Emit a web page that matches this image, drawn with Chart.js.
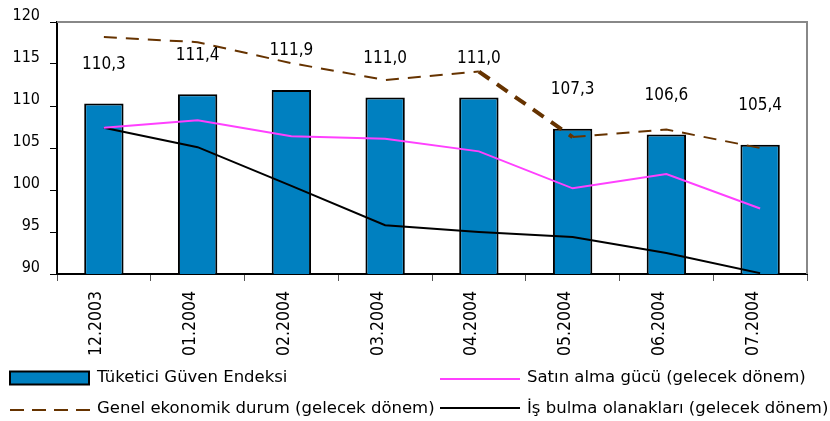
<!DOCTYPE html>
<html>
<head>
<meta charset="utf-8">
<script src="https://cdn.jsdelivr.net/npm/chart.js@4/dist/chart.umd.min.js"></script>
<style>
  body { margin: 0; background: #fff; }
</style>
</head>
<body>
<canvas id="guvenChart" width="830" height="421"></canvas>
<script>
const labels = ['12.2003', '01.2004', '02.2004', '03.2004', '04.2004', '05.2004', '06.2004', '07.2004'];
const guvenEndeksi = [110.3, 111.4, 111.9, 111.0, 111.0, 107.3, 106.6, 105.4];
const satinAlmaGucu = [107.4, 108.3, 106.4, 106.1, 104.6, 100.2, 101.9, 97.8];
const genelEkonomikDurum = [118.2, 117.6, 115.1, 113.1, 114.1, 106.3, 107.2, 105.0];
const isBulmaOlanaklari = [107.4, 105.1, 100.5, 95.8, 95.0, 94.4, 92.5, 90.1];

const fontFamily = "'DejaVu Sans Condensed', 'DejaVu Sans', sans-serif";
const legendFont = "16.5px 'DejaVu Sans', sans-serif";

// degerleri sutunlarin ustune yaz
const valueLabels = {
  id: 'valueLabels',
  afterDatasetsDraw(chart) {
    const ctx = chart.ctx;
    const meta = chart.getDatasetMeta(0);
    ctx.save();
    ctx.font = '17px ' + fontFamily;
    ctx.fillStyle = '#000';
    ctx.textAlign = 'center';
    ctx.textBaseline = 'middle';
    meta.data.forEach((bar, i) => {
      ctx.fillText(guvenEndeksi[i].toFixed(1).replace('.', ','), bar.x, bar.y - 39);
    });
    ctx.restore();
  }
};

// ust ve sag cerceve + alttaki iki sutunlu aciklama
const frameAndLegend = {
  id: 'frameAndLegend',
  afterDraw(chart) {
    const ctx = chart.ctx;
    const a = chart.chartArea;
    const ds = chart.data.datasets;
    ctx.save();
    ctx.strokeStyle = '#888';
    ctx.lineWidth = 2;
    ctx.beginPath();
    ctx.moveTo(a.left, a.top);
    ctx.lineTo(a.right, a.top);
    ctx.lineTo(a.right, a.bottom);
    ctx.stroke();

    ctx.font = legendFont;
    ctx.fillStyle = '#000';
    ctx.textAlign = 'left';
    ctx.textBaseline = 'alphabetic';

    // satir 1
    ctx.fillStyle = ds[0].backgroundColor;
    ctx.fillRect(10, 371.5, 79, 13);
    ctx.strokeStyle = '#000';
    ctx.lineWidth = 2;
    ctx.strokeRect(10, 371.5, 79, 13);
    ctx.fillStyle = '#000';
    ctx.fillText(ds[0].label, 97, 382);

    ctx.strokeStyle = ds[1].borderColor;
    ctx.lineWidth = 2;
    ctx.beginPath();
    ctx.moveTo(440, 379);
    ctx.lineTo(520, 379);
    ctx.stroke();
    ctx.fillText(ds[1].label, 527, 382);

    // satir 2
    ctx.strokeStyle = ds[2].borderColor;
    ctx.setLineDash([14, 8]);
    ctx.beginPath();
    ctx.moveTo(10, 410);
    ctx.lineTo(90, 410);
    ctx.stroke();
    ctx.setLineDash([]);
    ctx.fillText(ds[2].label, 97, 413);

    ctx.strokeStyle = ds[3].borderColor;
    ctx.beginPath();
    ctx.moveTo(440, 408);
    ctx.lineTo(520, 408);
    ctx.stroke();
    ctx.fillText(ds[3].label, 527, 413);
    ctx.restore();
  }
};

new Chart(document.getElementById('guvenChart'), {
  type: 'bar',
  data: {
    labels: labels,
    datasets: [
      {
        label: 'Tüketici Güven Endeksi',
        data: guvenEndeksi,
        backgroundColor: '#0080c0',
        borderColor: '#000',
        borderWidth: 2,
        barPercentage: 0.42,
        categoryPercentage: 1,
        order: 2,
      },
      {
        type: 'line',
        label: 'Satın alma gücü (gelecek dönem)',
        data: satinAlmaGucu,
        borderColor: '#ff40ff',
        borderWidth: 2,
        pointRadius: 0,
        tension: 0,
        fill: false,
        order: 1,
      },
      {
        type: 'line',
        label: 'Genel ekonomik durum (gelecek dönem)',
        data: genelEkonomikDurum,
        borderColor: '#663300',
        borderWidth: 2,
        borderDash: [13, 9],
        pointRadius: 0,
        tension: 0,
        fill: false,
        order: 1,
        segment: {
          borderWidth: ctx => ctx.p0DataIndex === 4 ? 4 : undefined,
        },
      },
      {
        type: 'line',
        label: 'İş bulma olanakları (gelecek dönem)',
        data: isBulmaOlanaklari,
        borderColor: '#000',
        borderWidth: 2,
        pointRadius: 0,
        tension: 0,
        fill: false,
        order: 1,
      },
    ],
  },
  options: {
    responsive: false,
    animation: false,
    layout: { padding: { top: 22, right: 23, left: 0, bottom: 0 } },
    plugins: {
      legend: { display: false },
      tooltip: { enabled: false },
    },
    scales: {
      x: {
        grid: { offset: true, drawOnChartArea: false, tickLength: 7, color: '#555' },
        border: { color: '#000', width: 2 },
        ticks: {
          autoSkip: false,
          minRotation: 90,
          maxRotation: 90,
          padding: 10,
          labelOffset: -7,
          color: '#000',
          font: { family: fontFamily, size: 17.5 },
        },
        afterFit: axis => { axis.height = 147; },
      },
      y: {
        min: 90,
        max: 120,
        grid: { drawOnChartArea: false, tickLength: 7, color: '#000' },
        border: { color: '#000', width: 2 },
        ticks: {
          stepSize: 5,
          padding: 10,
          labelOffset: -6,
          color: '#000',
          font: { family: fontFamily, size: 16 },
        },
        afterFit: axis => { axis.width = 57; },
      },
    },
  },
  plugins: [valueLabels, frameAndLegend],
});
</script>
</body>
</html>
